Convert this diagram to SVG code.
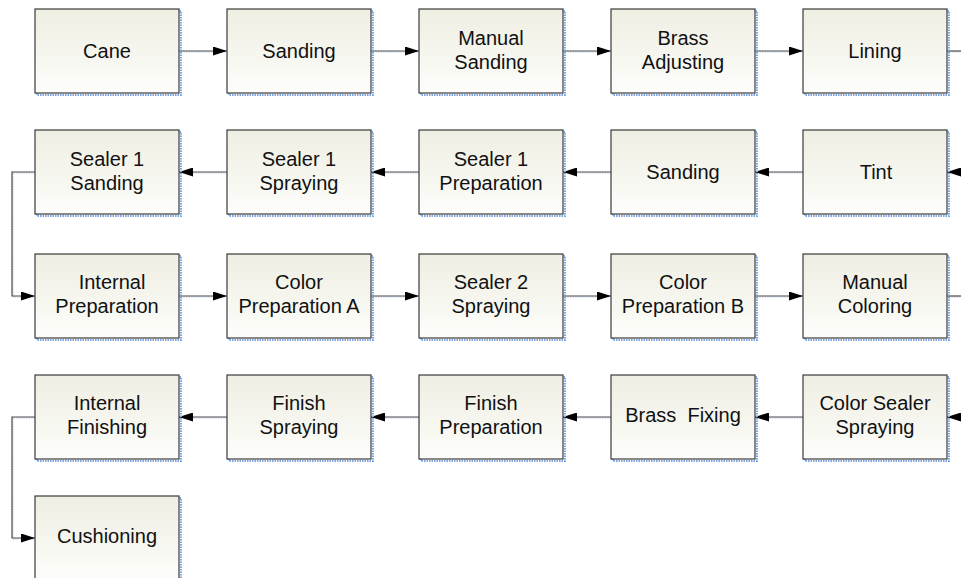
<svg xmlns="http://www.w3.org/2000/svg" width="961" height="578" viewBox="0 0 961 578">
<style>
.box{fill:url(#g);stroke:#3a3a3a;stroke-width:1.2}
.sh{fill:none;stroke:#7fa3dc;stroke-width:2;stroke-dasharray:1.5 1}
.t{font-family:"Liberation Sans",Arial,sans-serif;font-size:20px;fill:#111;text-anchor:middle;white-space:pre}
.c{fill:none;stroke:#4a4a4a;stroke-width:1.2}
.cs{fill:none;stroke:#b4c8ec;stroke-width:1;stroke-dasharray:1.5 1}
</style>
<defs>
<linearGradient id="g" x1="0" y1="0" x2="0" y2="1">
<stop offset="0" stop-color="#eeeee2"/>
<stop offset="1" stop-color="#fdfdfb"/>
</linearGradient>
<marker id="a" markerWidth="14" markerHeight="9" refX="14" refY="4.5" orient="auto" markerUnits="userSpaceOnUse">
<path d="M0,0 L14,4.5 L0,9 Z" fill="#000"/>
</marker>
<g id="b"><rect class="sh" x="2" y="2" width="144" height="84"/><rect class="box" x="0" y="0" width="144" height="84"/></g>
</defs>
<g id="connectors">
<g class="cs">
<path d="M181,52 H226 M373,52 H418 M565,52 H610 M757,52 H802 M949,52 H961"/>
<path d="M961,173 H949 M803,173 H757 M611,173 H565 M419,173 H373 M227,173 H181 M35,173 H13 V297 H34"/>
<path d="M181,297 H226 M373,297 H418 M565,297 H610 M757,297 H802 M949,297 H961"/>
<path d="M961,418 H949 M803,418 H757 M611,418 H565 M419,418 H373 M227,418 H181 M35,418 H13 V539 H34"/>
</g>
<path class="c" d="M179,51 H227" marker-end="url(#a)"/>
<path class="c" d="M371,51 H419" marker-end="url(#a)"/>
<path class="c" d="M563,51 H611" marker-end="url(#a)"/>
<path class="c" d="M755,51 H803" marker-end="url(#a)"/>
<path class="c" d="M947,51 H961"/>
<path class="c" d="M961,172 H947" marker-end="url(#a)"/>
<path class="c" d="M803,172 H755" marker-end="url(#a)"/>
<path class="c" d="M611,172 H563" marker-end="url(#a)"/>
<path class="c" d="M419,172 H371" marker-end="url(#a)"/>
<path class="c" d="M227,172 H179" marker-end="url(#a)"/>
<path class="c" d="M35,172 H12 V296 H35" marker-end="url(#a)"/>
<path class="c" d="M179,296 H227" marker-end="url(#a)"/>
<path class="c" d="M371,296 H419" marker-end="url(#a)"/>
<path class="c" d="M563,296 H611" marker-end="url(#a)"/>
<path class="c" d="M755,296 H803" marker-end="url(#a)"/>
<path class="c" d="M947,296 H961"/>
<path class="c" d="M961,417 H947" marker-end="url(#a)"/>
<path class="c" d="M803,417 H755" marker-end="url(#a)"/>
<path class="c" d="M611,417 H563" marker-end="url(#a)"/>
<path class="c" d="M419,417 H371" marker-end="url(#a)"/>
<path class="c" d="M227,417 H179" marker-end="url(#a)"/>
<path class="c" d="M35,417 H12 V538 H35" marker-end="url(#a)"/>
</g>
<g id="n1"><use href="#b" x="35" y="9"/><text class="t" x="107" y="58">Cane</text></g>
<g id="n2"><use href="#b" x="227" y="9"/><text class="t" x="299" y="58">Sanding</text></g>
<g id="n3"><use href="#b" x="419" y="9"/><text class="t" x="491" y="45">Manual</text><text class="t" x="491" y="69">Sanding</text></g>
<g id="n4"><use href="#b" x="611" y="9"/><text class="t" x="683" y="45">Brass</text><text class="t" x="683" y="69">Adjusting</text></g>
<g id="n5"><use href="#b" x="803" y="9"/><text class="t" x="875" y="58">Lining</text></g>
<g id="n6"><use href="#b" x="803" y="130"/><text class="t" x="876" y="179">Tint</text></g>
<g id="n7"><use href="#b" x="611" y="130"/><text class="t" x="683" y="179">Sanding</text></g>
<g id="n8"><use href="#b" x="419" y="130"/><text class="t" x="491" y="166">Sealer 1</text><text class="t" x="491" y="190">Preparation</text></g>
<g id="n9"><use href="#b" x="227" y="130"/><text class="t" x="299" y="166">Sealer 1</text><text class="t" x="299" y="190">Spraying</text></g>
<g id="n10"><use href="#b" x="35" y="130"/><text class="t" x="107" y="166">Sealer 1</text><text class="t" x="107" y="190">Sanding</text></g>
<g id="n11"><use href="#b" x="35" y="254"/><text class="t" x="112" y="289">Internal</text><text class="t" x="107" y="313">Preparation</text></g>
<g id="n12"><use href="#b" x="227" y="254"/><text class="t" x="299" y="289">Color</text><text class="t" x="299" y="313">Preparation A</text></g>
<g id="n13"><use href="#b" x="419" y="254"/><text class="t" x="491" y="289">Sealer 2</text><text class="t" x="491" y="313">Spraying</text></g>
<g id="n14"><use href="#b" x="611" y="254"/><text class="t" x="683" y="289">Color</text><text class="t" x="683" y="313">Preparation B</text></g>
<g id="n15"><use href="#b" x="803" y="254"/><text class="t" x="875" y="289">Manual</text><text class="t" x="875" y="313">Coloring</text></g>
<g id="n16"><use href="#b" x="803" y="375"/><text class="t" x="875" y="410">Color Sealer</text><text class="t" x="875" y="434">Spraying</text></g>
<g id="n17"><use href="#b" x="611" y="375"/><text class="t" x="683" y="422">Brass  Fixing</text></g>
<g id="n18"><use href="#b" x="419" y="375"/><text class="t" x="491" y="410">Finish</text><text class="t" x="491" y="434">Preparation</text></g>
<g id="n19"><use href="#b" x="227" y="375"/><text class="t" x="299" y="410">Finish</text><text class="t" x="299" y="434">Spraying</text></g>
<g id="n20"><use href="#b" x="35" y="375"/><text class="t" x="107" y="410">Internal</text><text class="t" x="107" y="434">Finishing</text></g>
<g id="n21"><use href="#b" x="35" y="496"/><text class="t" x="107" y="543">Cushioning</text></g>
</svg>
